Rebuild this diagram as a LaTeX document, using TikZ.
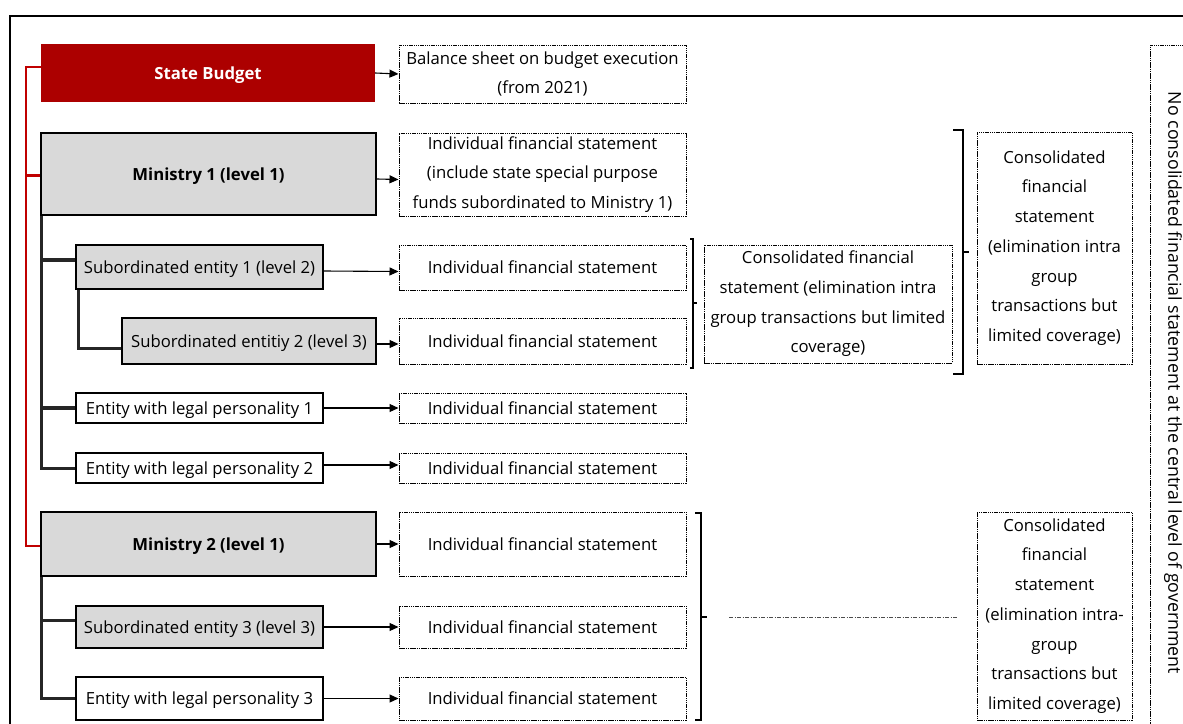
\documentclass[tikz,border=0pt]{standalone}
\usepackage{fontspec}
\setmainfont{Open Sans}
\usetikzlibrary{arrows.meta,calc}
\definecolor{budgetred}{HTML}{AC0000}
\definecolor{linkred}{HTML}{C00000}
\definecolor{unitgray}{HTML}{D9D9D9}
\definecolor{treeline}{HTML}{262626}
\tikzset{
  txt/.style={font=\fontsize{16.7}{29.7}\selectfont, align=center, inner sep=0pt},
  oneline/.style={text height=16pt, text depth=3.5pt},
  budget/.style={txt, oneline, fill=budgetred, text=white, font=\fontsize{16.7}{29.7}\selectfont\bfseries},
  unitbox/.style={txt, oneline, draw=black, line width=2.4pt, fill=unitgray},
  entitybox/.style={txt, oneline, draw=black, line width=2.4pt, fill=white},
  stmt/.style={txt, draw=black, line width=1pt, dash pattern=on 1.5pt off 0.7pt},
  arr/.style={line width=1.1pt, -{Triangle[length=9pt,width=8pt]}},
  redln/.style={draw=linkred, line width=2.5pt},
  tree/.style={draw=treeline, line width=3pt},
  brk/.style={draw=black, line width=2.8pt},
  dotdash/.style={draw=black!70, line width=0.8pt, dash pattern=on 4pt off 1.5pt on 1pt off 1.5pt}
}
\begin{document}
\begin{tikzpicture}[x=1pt,y=-1pt]
\useasboundingbox (0,0) rectangle (1183,723);
\clip (0,0) rectangle (1183,723);

% outer frame
\draw[line width=2.4pt] (1200,16) -- (10,16) -- (10,740);

% organisational units
\node[budget, minimum width=334pt, minimum height=58pt] (sb) at (208,73) {State Budget};
\node[unitbox, minimum width=335pt, minimum height=82pt, font=\fontsize{16.7}{29.7}\selectfont\bfseries] (m1) at (208.5,174) {Ministry 1 (level 1)};
\node[unitbox, minimum width=247pt, minimum height=44pt] (s1) at (199.5,267) {Subordinated entity 1 (level 2)};
\node[unitbox, minimum width=254pt, minimum height=46pt] (s2) at (249,341) {Subordinated entitiy 2 (level 3)};
\node[entitybox, minimum width=247pt, minimum height=30pt] (e1) at (199.5,408) {Entity with legal personality 1};
\node[entitybox, minimum width=247pt, minimum height=30pt] (e2) at (199.5,468) {Entity with legal personality 2};
\node[unitbox, minimum width=335pt, minimum height=64pt, font=\fontsize{16.7}{29.7}\selectfont\bfseries] (m2) at (208.5,544) {Ministry 2 (level 1)};
\node[unitbox, minimum width=247pt, minimum height=42pt] (s3) at (199.5,627) {Subordinated entity 3 (level 3)};
\node[entitybox, minimum width=247pt, minimum height=43pt] (e3) at (199.5,698.5) {Entity with legal personality 3};

% statements
\node[stmt, minimum width=287pt, minimum height=58pt] (bs) at (542.5,74) {Balance sheet on budget execution\\(from 2021)};
\node[stmt, minimum width=287pt, minimum height=83pt] (f1) at (542.5,174.5) {Individual financial statement\\(include state special purpose\\funds subordinated to Ministry 1)};
\node[stmt, oneline, minimum width=287pt, minimum height=45pt] (f2) at (542.5,267.5) {Individual financial statement};
\node[stmt, oneline, minimum width=287pt, minimum height=46pt] (f3) at (542.5,341) {Individual financial statement};
\node[stmt, oneline, minimum width=287pt, minimum height=30pt] (f4) at (542.5,408) {Individual financial statement};
\node[stmt, oneline, minimum width=287pt, minimum height=30pt] (f5) at (542.5,468) {Individual financial statement};
\node[stmt, oneline, minimum width=287pt, minimum height=64pt] (f6) at (542.5,544) {Individual financial statement};
\node[stmt, oneline, minimum width=287pt, minimum height=42pt] (f7) at (542.5,627) {Individual financial statement};
\node[stmt, oneline, minimum width=287pt, minimum height=43pt] (f8) at (542.5,698.5) {Individual financial statement};

% consolidated statements
\node[stmt, minimum width=248pt, minimum height=118pt] (c1) at (828,304) {Consolidated financial\\statement (elimination intra\\group transactions but limited\\coverage)};
\node[stmt, minimum width=155pt, minimum height=232pt] (c2) at (1054.5,248) {Consolidated\\financial\\statement\\(elimination intra\\group\\transactions but\\limited coverage)};
\node[stmt, minimum width=155pt, minimum height=208pt] (c3) at (1054.5,616) {Consolidated\\financial\\statement\\(elimination intra-\\group\\transactions but\\limited coverage)};

% central level
\draw[stmt] (1210,45) -- (1150,45) -- (1150,740);
\node[txt, rotate=-90, font=\fontsize{17.8}{29.7}\selectfont] (cg) at (1173,383) {No consolidated financial statement at the central level of government};

% state budget links
\draw[redln] ([yshift=6pt]sb.west) -- ++(-15,0) coordinate (rtop) |- ([yshift=-2pt]m2.west);
\draw[redln] ([yshift=-1.5pt]rtop |- m1.west) -- ([yshift=-1.5pt]m1.west);

% ministry 1 hierarchy
\coordinate (t1) at ([xshift=1.5pt]m1.south west);
\draw[tree] (t1) |- (e2.west);
\draw[tree, line width=3.6pt] ([yshift=7pt]t1 |- s1.west) -- ([yshift=7pt]s1.west);
\draw[tree, line width=3.6pt] (t1 |- e1.west) -- (e1.west);
\coordinate (t2) at ([xshift=4pt]s1.south west);
\draw[tree] (t2) |- ([yshift=-7pt]s2.west);

% ministry 2 hierarchy
\coordinate (t3) at ([xshift=1.5pt]m2.south west);
\draw[tree] (t3) |- (e3.west);
\draw[tree] ([yshift=7pt]t3 |- s3.west) -- ([yshift=7pt]s3.west);

% reporting arrows
\draw[arr] (sb.east) -- (bs.west);
\draw[arr] ([yshift=-5pt]m1.east) -- ([yshift=-5pt]f1.west);
\draw[arr] ([yshift=-4pt]s1.east) -- ([yshift=-4pt]f2.west);
\draw[arr] ([yshift=-3pt]s2.east) -- ([yshift=-3pt]f3.west);
\draw[arr] (e1.east) -- (f4.west);
\draw[arr] ([yshift=3pt]e2.east) -- ([yshift=3pt]f5.west);
\draw[arr] (m2.east) -- (f6.west);
\draw[arr] (s3.east) -- (f7.west);
\draw[arr] (e3.east) -- (f8.west);

% grouping brackets
\draw[brk] (690,239) -- (693,239) -- (693,368) -- (690,368);
\draw[brk] (693,303) -- (697,303);
\draw[brk] (953,130) -- (963,130) -- (963,374) -- (953,374);
\draw[brk] (963,252) -- (969,252);
\draw[brk] (695,513) -- (701,513) -- (701,720) -- (695,720);
\draw[brk] (701,617) -- (707,617);
\coordinate (dl) at (729,617);
\draw[dotdash] (dl) -- ($(dl -| c3.west)+(-19,0)$);
\end{tikzpicture}
\end{document}
